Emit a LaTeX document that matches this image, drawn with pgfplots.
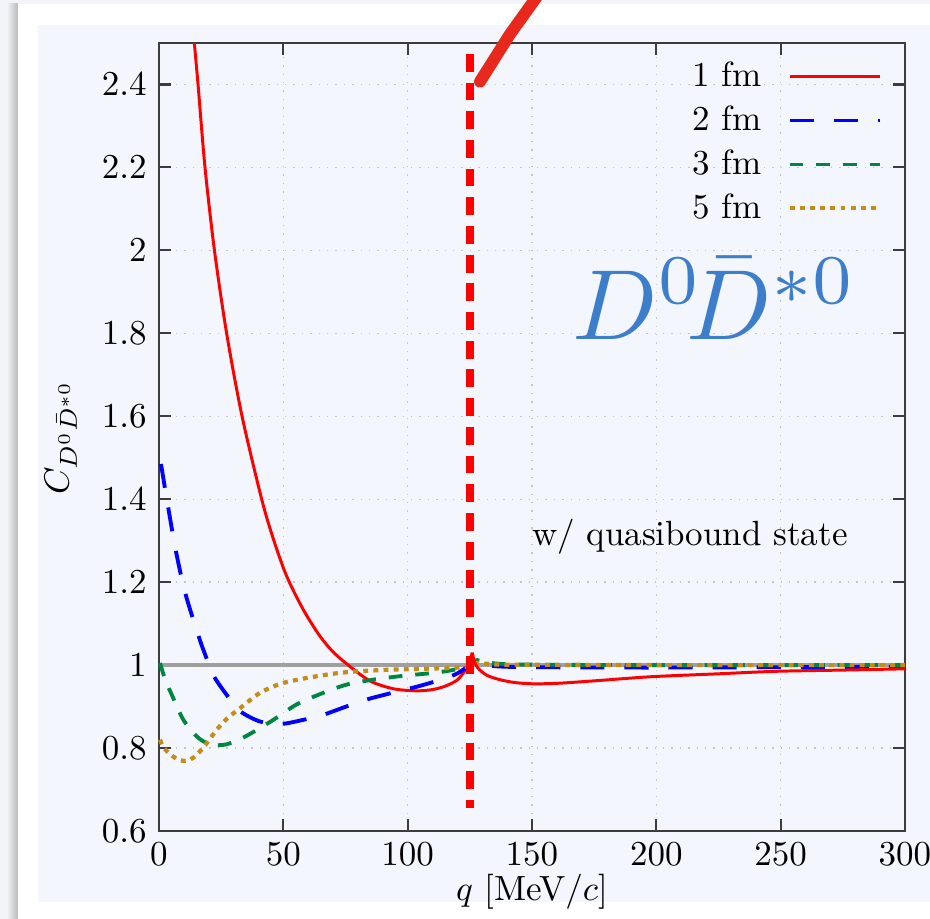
\documentclass[border=0pt]{standalone}
\usepackage{graphicx}
\usepackage{pgfplots}
\pgfplotsset{compat=1.18}
\usetikzlibrary{backgrounds}
\definecolor{panel}{RGB}{243,246,253}
\definecolor{outerbg}{RGB}{242,244,249}
\definecolor{myblue}{RGB}{0,0,255}
\definecolor{mygreen}{RGB}{0,134,66}
\definecolor{mygold}{RGB}{196,140,24}
\definecolor{labblue}{RGB}{61,126,204}
\definecolor{strokered}{RGB}{232,40,28}
\definecolor{axgray}{RGB}{60,60,60}

\begin{document}
\begin{tikzpicture}
\begin{axis}[name=ax, scale only axis, width=213.14pt, height=225.14pt,
  xmin=0, xmax=300, ymin=0.6, ymax=2.5,
  xtick={0,50,100,150,200,250,300},
  ytick={0.6,0.8,1.0,1.2,1.4,1.6,1.8,2.0,2.2,2.4},
  clip=false,
  axis line style={axgray, line width=0.6pt},
  major tick style={axgray, line width=0.6pt},
  major tick length=3.4pt,
  grid=major,
  major grid style={dotted, gray!45, line width=0.4pt},
  xlabel={$q$ [MeV$/c$]},
  ylabel={$C_{D^0\bar{D}^{*0}}$},
  xlabel style={yshift=4.5pt},
  ylabel style={yshift=0.3pt},
  legend style={draw=none, fill=none, at={(0.984,0.995)}, anchor=north east},
  legend cell align=right,
  legend plot pos=right,
  legend image code/.code={\path (0pt,0pt); \draw[#1] (5.4pt,0pt) -- (31.1pt,0pt);},
]
\addplot[gray!75, line width=1.1pt, forget plot] coordinates {(0,1) (300,1)};

\addplot[red, line width=0.85pt, smooth] coordinates {
(14.2,2.50) (15.7,2.40) (18.5,2.20) (22.3,2.00) (27.2,1.80) (33.4,1.60)
(41.3,1.40) (46,1.304) (51.3,1.215) (58,1.134) (64.7,1.070)
(70,1.032) (76.1,1.0) (84.8,0.962) (94.2,0.943) (103.6,0.938) (110,0.941)
(115,0.949) (119.7,0.963) (122.5,0.982) (124.5,1.003) (126,1.03)};
\addlegendentry{1 fm}
\addplot[myblue, line width=1.1pt, dash pattern=on 6.9pt off 5.7pt, smooth] coordinates {
(0.8,1.485) (3.7,1.38) (6.8,1.275) (10.5,1.175) (15.8,1.072) (18.9,1.02)
(22.1,0.973) (27.5,0.926) (32.6,0.889) (40.6,0.864) (49,0.858) (58,0.868)
(66,0.880) (74.8,0.899) (83.5,0.917) (95,0.935) (105,0.950) (115,0.968)
(120,0.980) (124,0.996) (126,1.004) (128,1.007) (131,1.002) (136,0.997)
(150,0.995) (200,0.994) (250,0.995) (300,0.996)};
\addlegendentry{2 fm}
\addplot[mygreen, line width=1.1pt, dash pattern=on 3.9pt off 3.7pt, smooth] coordinates {
(0.4,1.005) (2.5,0.965) (5.1,0.929) (9.8,0.868) (15.2,0.828) (19.2,0.812)
(23,0.807) (27.2,0.809) (32,0.82) (36.6,0.834) (46,0.868) (55.3,0.905)
(66,0.933) (75.5,0.953) (86.2,0.965) (98,0.974) (110,0.981) (118,0.988)
(124,0.998) (126.5,1.01) (128,1.012) (132,1.007) (137,1.003) (150,1.001)
(200,1.0) (300,1.0)};
\addlegendentry{3 fm}
\addplot[mygold, line width=1.2pt, dash pattern=on 1.4pt off 1.5pt, smooth] coordinates {
(0.4,0.82) (2,0.80) (4.4,0.786) (7,0.774) (9.8,0.769) (12.5,0.772)
(15.2,0.784) (19,0.81) (23.2,0.844) (27.5,0.872) (32.6,0.896) (40.6,0.933)
(50,0.957) (63.3,0.973) (75.5,0.983) (93,0.989) (117,0.993) (124,0.997)
(127,1.005) (132,1.003) (140,1.001) (200,1.0) (300,1.0)};
\addlegendentry{5 fm}

\addplot[red, line width=0.85pt, smooth, forget plot] coordinates {
(126,1.03) (127,1.005) (128.7,0.99) (132,0.975) (137,0.965) (143,0.958)
(150,0.955) (160,0.956) (175,0.962) (198,0.972) (225,0.979) (248,0.985)
(275,0.988) (300,0.991)};

\addplot[red, line width=2.3pt, dash pattern=on 5.1pt off 3.1pt, forget plot]
  coordinates {(125,2.474) (125,0.656)};
\addplot[strokered, line width=3.4pt, line cap=round, forget plot]
  coordinates {(129.1,2.407) (141,2.52) (153.2,2.622)};

\node[text=labblue] at (axis cs:223.6,1.884) {\scalebox{2.85}{$D^0\!\bar{D}^{*0}$}};
\node at (axis cs:213.5,1.309) {w/ quasibound state};
\end{axis}

\begin{scope}[on background layer, shift={(ax.south west)}]
  \fill[outerbg] (-45.43pt,-25.14pt) rectangle (220.29pt,237.43pt);
  \shade[left color=outerbg, right color=gray!55] (-43.5pt,-25.14pt) rectangle (-40.29pt,236.29pt);
  \fill[white] (-40.29pt,-25.14pt) rectangle (220.29pt,236.29pt);
  \fill[panel] (-34.57pt,-20.29pt) rectangle (220.29pt,230.29pt);
\end{scope}
\pgfresetboundingbox
\path[use as bounding box, shift={(ax.south west)}] (-45.43pt,-25.14pt) rectangle (220.29pt,237.43pt);
\end{tikzpicture}
\end{document}
